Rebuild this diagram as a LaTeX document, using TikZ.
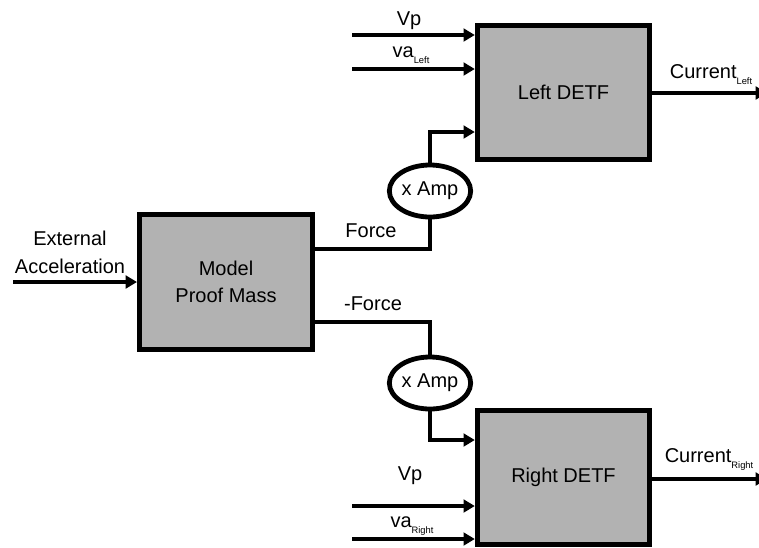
\documentclass[tikz,border=0pt]{standalone}
\usepackage{fontspec}
\setmainfont{Liberation Sans}
\usetikzlibrary{arrows.meta,shapes.geometric,positioning}

\newcommand{\lowsub}[1]{\raisebox{-4.5pt}{\fontsize{7}{8}\selectfont #1}}

\begin{document}
\begin{tikzpicture}[x=0.75pt, y=-0.75pt,
    block/.style={draw, line width=4pt, fill=blockGrey, minimum width=129pt,
        minimum height=100.5pt, align=center, font=\fontsize{15}{20}\selectfont},
    amp/.style={draw, ellipse, line width=3.6pt, minimum width=61pt, minimum height=39pt,
        inner sep=0pt, font=\fontsize{15}{17}\selectfont},
    wire/.style={line width=3.4pt},
    sig/.style={wire, -{Triangle[length=8.5pt, width=9.5pt]}},
    lbl/.style={anchor=base, inner sep=0pt, font=\fontsize{15}{17}\selectfont}]
    \definecolor{blockGrey}{HTML}{B2B2B2}

    \useasboundingbox (0,0) rectangle (759,547);
    \clip (0,0) rectangle (759,547);

    \node[block, minimum width=129.5pt, minimum height=101pt] (mass) at (226,282) {Model\\Proof Mass};
    \node[block] (leftDETF) at (563.5,92.5) {Left DETF};
    \node[block] (rightDETF) at (563.5,477.5) {Right DETF};
    \node[amp] (ampTop) at (430,191) {x Amp};
    \node[amp] (ampBot) at (430,383) {x Amp};

    \coordinate (extIn) at (13,282);
    \coordinate (vpTopIn) at (352,35);
    \coordinate (vaTopIn) at (352,69);
    \coordinate (vpBotIn) at (352,506);
    \coordinate (vaBotIn) at (352,539);
    \coordinate (curTopOut) at (767,93);
    \coordinate (curBotOut) at (767,479);

    \draw[sig] (extIn) -- (extIn -| mass.west);
    \draw[wire] (mass.east |- 0,249) -| (ampTop.south);
    \draw[wire] (mass.east |- 0,322) -| (ampBot.north);
    \draw[sig] (ampTop.north) |- (leftDETF.west |- 0,132);
    \draw[sig] (ampBot.south) |- (rightDETF.west |- 0,440);

    \draw[sig] (vpTopIn) -- (vpTopIn -| leftDETF.west);
    \draw[sig] (vaTopIn) -- (vaTopIn -| leftDETF.west);
    \draw[sig] (vpBotIn) -- (vpBotIn -| rightDETF.west);
    \draw[sig] (vaBotIn) -- (vaBotIn -| rightDETF.west);
    \draw[sig] (leftDETF.east |- curTopOut) -- (curTopOut);
    \draw[sig] (rightDETF.east |- curBotOut) -- (curBotOut);

    \node[align=center, inner sep=0pt, font=\fontsize{15}{21}\selectfont] (extLbl) at (70,252) {External\\Acceleration};
    \node[lbl] (forceLbl) at (371,237) {Force};
    \node[lbl] (negForceLbl) at (373,310) {-Force};
    \node[lbl] (vpTopLbl) at (409,25) {Vp};
    \node[lbl] (vaTopLbl) at (411,57) {va\lowsub{Left}};
    \node[lbl] (curTopLbl) at (711,78) {Current\lowsub{Left}};
    \node[lbl] (vpBotLbl) at (410,480) {Vp};
    \node[lbl] (vaBotLbl) at (412,527) {va\lowsub{Right}};
    \node[lbl] (curBotLbl) at (709,462) {Current\lowsub{Right}};

\end{tikzpicture}
\end{document}
